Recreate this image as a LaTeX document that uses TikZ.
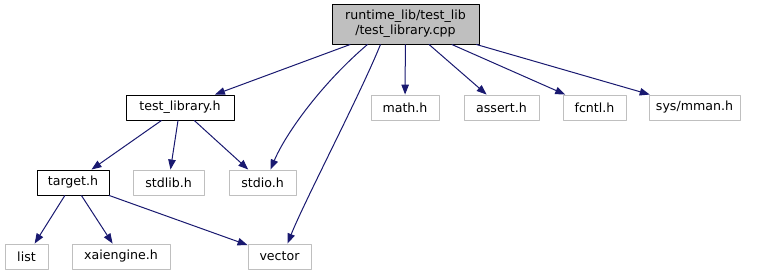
\documentclass[tikz,border=0pt]{standalone}
\usepackage{fontspec}
\setmainfont{DejaVu Sans}
\usetikzlibrary{arrows.meta}
\definecolor{edgeblue}{RGB}{25,25,112}
\definecolor{boxgray}{RGB}{191,191,191}
\tikzset{incl/.style={draw=boxgray,line width=0.9pt,minimum height=25pt,inner sep=0pt},
  docfile/.style={draw=black,line width=0.9pt,minimum height=25pt,inner sep=0pt},
  dep/.style={edgeblue,line width=1pt,-{Triangle[length=10pt,width=7.5pt]}}}

\begin{document}
\begin{tikzpicture}[x=1pt,y=-1pt,line join=round,font=\fontsize{12.6}{15}\selectfont]
\useasboundingbox (0,0) rectangle (758,276);
% --- files of the project
\node[docfile,fill=boxgray,minimum width=147pt,minimum height=40pt,align=center] (root) at (405.5,24) {runtime\_lib/test\_lib\\/test\_library.cpp};
\node[docfile,minimum width=108pt] (testlib) at (180,107.5) {test\_library.h};
\node[docfile,minimum width=72pt] (target) at (73,182.5) {target.h};
% --- system and library headers
\node[incl,minimum width=68pt] (math) at (405,107.5) {math.h};
\node[incl,minimum width=75pt] (assert) at (501.5,107.5) {assert.h};
\node[incl,minimum width=63pt] (fcntl) at (594.5,107.5) {fcntl.h};
\node[incl,minimum width=91pt] (mman) at (694.5,107.5) {sys/mman.h};
\node[incl,minimum width=71pt] (stdlib) at (168.5,182.5) {stdlib.h};
\node[incl,minimum width=67pt] (stdio) at (262.5,182.5) {stdio.h};
\node[incl,minimum width=43pt] (list) at (26.5,256.5) {list};
\node[incl,minimum width=98pt] (xai) at (121,256.5) {xaiengine.h};
\node[incl,minimum width=63pt] (vector) at (279.5,256.5) {vector};
% --- include edges
\draw[dep] (root) -- (testlib);
\draw[dep] ([xshift=-38pt]root.south) .. controls (320,85) and (285,135) .. ([xshift=8pt]stdio.north);
\draw[dep] ([xshift=-25pt]root.south) .. controls (360,95) and (305,200) .. ([xshift=8pt]vector.north);
\draw[dep] (root) -- (math);
\draw[dep] (root) -- (assert);
\draw[dep] (root) -- (fcntl);
\draw[dep] (root) -- (mman);
\draw[dep] (testlib) -- (target);
\draw[dep] (testlib) -- (stdlib);
\draw[dep] (testlib) -- (stdio);
\draw[dep] (target) -- (list);
\draw[dep] (target) -- (xai);
\draw[dep] (target) -- (vector);
\end{tikzpicture}
\end{document}
